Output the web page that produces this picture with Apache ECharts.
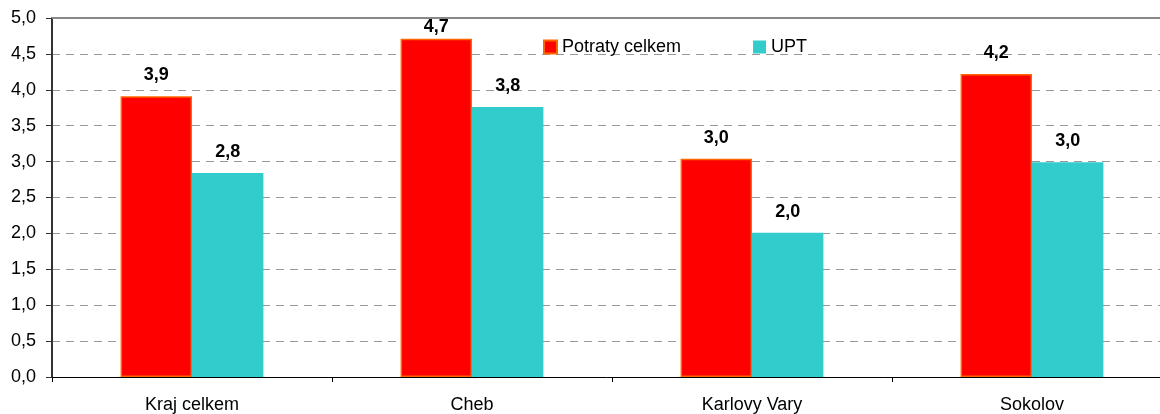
<!DOCTYPE html>
<html>
<head>
<meta charset="utf-8">
<script src="https://cdn.jsdelivr.net/npm/echarts@6/dist/echarts.min.js"></script>
<style>
  html, body { margin: 0; padding: 0; background: #fff; }
  #box1 { width: 1160px; height: 414px; }
</style>
</head>
<body>
<div id="box1"></div>
<script>
var categories = ['Kraj celkem', 'Cheb', 'Karlovy Vary', 'Sokolov'];
var potraty = [3.91, 4.71, 3.04, 4.22];
var upt = [2.84, 3.76, 2.01, 2.99];

var dom = document.getElementById("box1");
var myChart = echarts.init(dom);
var font = 'Liberation Sans, Arial, sans-serif';

function fmt(v) {
  return v.toFixed(1).replace('.', ',');
}

var barLabel = {
  show: true,
  position: 'top',
  distance: 12,
  fontFamily: font,
  fontSize: 18,
  fontWeight: 'bold',
  color: '#000',
  formatter: function (p) { return fmt(p.value); }
};

// labels of bars close to the top are pushed down to stay inside the plot
function withLabels(values) {
  return values.map(function (v) {
    if (v > 4.5) {
      return { value: v, label: { distance: 3 } };
    }
    return v;
  });
}

var option = {
  animation: false,
  textStyle: { fontFamily: font },
  grid: { left: 52, width: 1120, top: 18, bottom: 37, containLabel: false, outerBoundsMode: 'none' },
  legend: {
    left: 538,
    top: 33,
    icon: 'rect',
    itemWidth: 13,
    itemHeight: 13,
    itemGap: 72,
    textStyle: { fontFamily: font, fontSize: 18, color: '#000' },
    data: ['Potraty celkem', 'UPT']
  },
  xAxis: [{
    type: 'category',
    data: categories,
    axisLine: { lineStyle: { color: '#000', width: 1 } },
    axisTick: { show: true, length: 5, lineStyle: { color: '#000' } },
    axisLabel: { fontFamily: font, fontSize: 18, color: '#000', margin: 19 }
  }, {
    type: 'category',
    position: 'top',
    data: categories,
    axisLine: { show: true, lineStyle: { color: '#888', width: 2 } },
    axisTick: { show: false },
    axisLabel: { show: false }
  }],
  yAxis: {
    type: 'value',
    min: 0,
    max: 5,
    interval: 0.5,
    axisLine: { show: true, lineStyle: { color: '#333', width: 2 } },
    axisTick: { show: true, length: 6, lineStyle: { color: '#333' } },
    axisLabel: {
      fontFamily: font, fontSize: 18, color: '#000', margin: 16,
      formatter: function (v) { return fmt(v); }
    },
    splitLine: { lineStyle: { color: '#999', type: [8, 6], width: 1 } }
  },
  series: [
    {
      name: 'Potraty celkem',
      type: 'bar',
      data: withLabels(potraty),
      barGap: '0%',
      barCategoryGap: '49%',
      itemStyle: { color: '#ff0000', borderColor: '#ff6600', borderWidth: 1.5 },
      label: barLabel
    },
    {
      name: 'UPT',
      type: 'bar',
      data: withLabels(upt),
      itemStyle: { color: '#33cccc' },
      label: barLabel
    }
  ]
};

if (option && typeof option === 'object') {
  myChart.setOption(option);
}
</script>
</body>
</html>
